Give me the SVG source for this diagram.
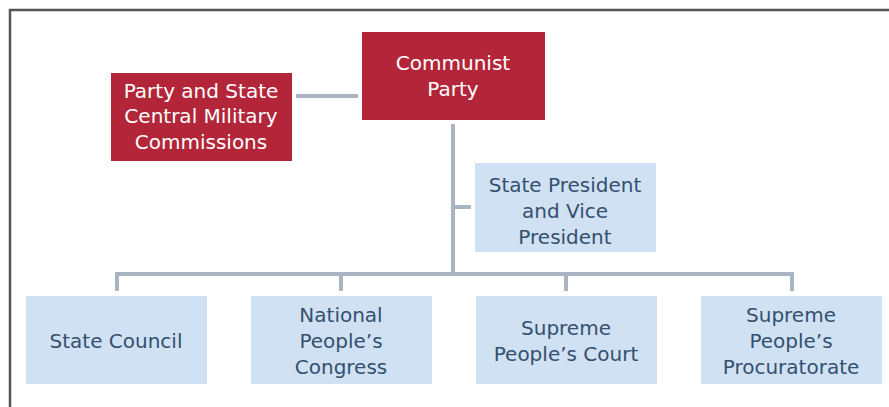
<svg xmlns="http://www.w3.org/2000/svg" width="889" height="407" viewBox="0 0 889 407">
<style>
.red{fill:#b3263a}
.blue{fill:#d0e1f3}
.tw{fill:#ffffff;font-family:"DejaVu Sans",Verdana,sans-serif;font-size:20px;text-anchor:middle}
.tb{fill:#34506f;font-family:"DejaVu Sans",Verdana,sans-serif;font-size:20px;text-anchor:middle}
.con{stroke:#a9b5c2;stroke-width:4;fill:none}
</style>
<rect x="0" y="0" width="889" height="407" fill="#ffffff"/>
<path d="M10,407 V10 H889" fill="none" stroke="#555555" stroke-width="2.5"/>
<g id="connectors">
<line class="con" x1="296" y1="96" x2="358" y2="96"/>
<line class="con" x1="453" y1="124" x2="453" y2="276"/>
<line class="con" x1="453" y1="207" x2="471" y2="207"/>
<path class="con" d="M117,291 V274 H792 V291"/>
<line class="con" x1="341" y1="274" x2="341" y2="291"/>
<line class="con" x1="566" y1="274" x2="566" y2="291"/>
</g>
<g id="communist-party">
<rect class="red" x="362" y="32" width="183" height="88"/>
<text class="tw" x="453" y="70">Communist</text>
<text class="tw" x="453" y="96">Party</text>
</g>
<g id="cmc">
<rect class="red" x="111" y="73" width="181" height="88"/>
<text class="tw" x="201" y="98">Party and State</text>
<text class="tw" x="201" y="123">Central Military</text>
<text class="tw" x="201" y="149">Commissions</text>
</g>
<g id="state-president">
<rect class="blue" x="475" y="163" width="181" height="89"/>
<text class="tb" x="565" y="192">State President</text>
<text class="tb" x="565" y="218">and Vice</text>
<text class="tb" x="565" y="244">President</text>
</g>
<g id="state-council">
<rect class="blue" x="26" y="296" width="181" height="88"/>
<text class="tb" x="116" y="348">State Council</text>
</g>
<g id="npc">
<rect class="blue" x="251" y="296" width="181" height="88"/>
<text class="tb" x="341" y="322">National</text>
<text class="tb" x="341" y="348">People’s</text>
<text class="tb" x="341" y="374">Congress</text>
</g>
<g id="court">
<rect class="blue" x="476" y="296" width="181" height="88"/>
<text class="tb" x="566" y="335">Supreme</text>
<text class="tb" x="566" y="361">People’s Court</text>
</g>
<g id="procuratorate">
<rect class="blue" x="701" y="296" width="181" height="88"/>
<text class="tb" x="791" y="322">Supreme</text>
<text class="tb" x="791" y="348">People’s</text>
<text class="tb" x="791" y="374">Procuratorate</text>
</g>
</svg>
